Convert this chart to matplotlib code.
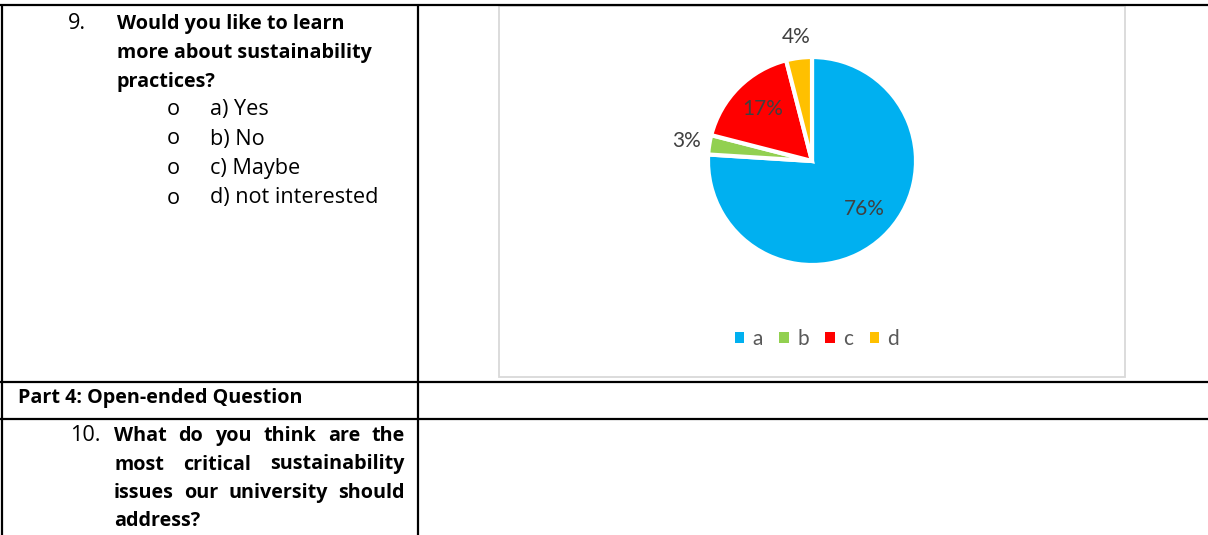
import matplotlib
matplotlib.use("Agg")
import matplotlib.pyplot as plt
from matplotlib.lines import Line2D
from matplotlib.patches import Rectangle
import numpy as np

# ---- data ----
categories = ["a", "b", "c", "d"]
shares = [76, 3, 17, 4]
pct_labels = ["76%", "3%", "17%", "4%"]
colors = ["#00B0F0", "#92D050", "#FF0000", "#FFC000"]

q9_number = "9."
q9_lines = ["Would you like to learn", "more about sustainability", "practices?"]
q9_options = ["a) Yes", "b) No", "c) Maybe", "d) not interested"]
part_title = "Part 4: Open-ended Question"
q10_number = "10."
q10_lines = ["What do you think are the", "most critical sustainability",
             "issues our university should", "address?"]

W, H = 1208, 535
fig = plt.figure(figsize=(W / 100, H / 100), dpi=100)
fig.patch.set_facecolor("white")
renderer = fig.canvas.get_renderer()


def fx(x):
    return x / W


def fy(y):
    return 1 - y / H


def hline(y, x0, x1, lw=2.0, color="black"):
    fig.add_artist(Line2D([fx(x0), fx(x1)], [fy(y), fy(y)], transform=fig.transFigure,
                          color=color, lw=lw, solid_capstyle="butt"))


def vline(x, y0, y1, lw=2.0, color="black"):
    fig.add_artist(Line2D([fx(x), fx(x)], [fy(y0), fy(y1)], transform=fig.transFigure,
                          color=color, lw=lw, solid_capstyle="butt"))


def fit_size(text, family, weight, target_px):
    t = fig.text(0, 0, text, family=family, fontweight=weight, fontsize=10)
    w = t.get_window_extent(renderer).width
    t.remove()
    return 10 * target_px / w


# ---- table grid ----
hline(5, 0, W, lw=1.6)
hline(382, 0, W, lw=1.6)
hline(419, 0, W, lw=1.6)
vline(1.5, 5, H, lw=1.6)
vline(418, 5, H, lw=1.6)

# chart frame
fig.add_artist(Rectangle((fx(499), fy(377)), fx(1125) - fx(499), fy(6) - fy(377),
                         transform=fig.transFigure, facecolor="none",
                         edgecolor="#D9D9D9", lw=1.3, zorder=0.5))

doc_font = "Open Sans"
fs_bold = fit_size("Would you like to learn", doc_font, "bold", 229)
fs_reg = fit_size("d) not interested", doc_font, "normal", 168)
reg_kw = dict(family=doc_font, fontsize=fs_reg, color="black", va="baseline")
bold_kw = dict(family=doc_font, fontsize=fs_bold, color="black", va="baseline",
               fontweight="bold")

# ---- question 9 ----
fig.text(fx(68), fy(29), q9_number, **reg_kw)
for i, line in enumerate(q9_lines):
    fig.text(fx(117), fy(29 + 29 * i), line, **bold_kw)
for i, opt in enumerate(q9_options):
    y = 115 + 29.5 * i
    fig.text(fx(167), fy(y), "o", **reg_kw)
    fig.text(fx(210), fy(y), opt, **reg_kw)

# ---- part 4 ----
fig.text(fx(18), fy(403), part_title, **bold_kw)

# ---- question 10 (justified) ----
fig.text(fx(70), fy(441), q10_number, **reg_kw)
x_left, x_right = 114, 405
for i, line in enumerate(q10_lines):
    y = 441 + 28.5 * i
    words = line.split()
    if i == len(q10_lines) - 1:
        fig.text(fx(x_left), fy(y), line, **bold_kw)
        continue
    arts = [fig.text(0, 0, w, **bold_kw) for w in words]
    widths = [a.get_window_extent(renderer).width for a in arts]
    gap = (x_right - x_left - sum(widths)) / (len(words) - 1)
    x = x_left
    for a, wdt in zip(arts, widths):
        a.set_position((fx(x), fy(y)))
        x += wdt + gap

# ---- pie chart ----
cx, cy, R = 812, 161, 104
half = 150
ax = fig.add_axes([fx(cx - half), fy(cy + half), 2 * half / W, 2 * half / H])
ax.set_zorder(2)
wedges, _ = ax.pie(shares, colors=colors, startangle=90, counterclock=False,
                   radius=1.0, wedgeprops=dict(edgecolor="white", linewidth=3))
ax.set_xlim(-half / R, half / R)
ax.set_ylim(-half / R, half / R)
ax.axis("off")

label_dist = [0.68, 1.22, 0.69, 1.20]
label_shift = [4.0, 0.0, -2.0, 0.0]  # small angular tweaks (deg)
for w, lab, d, s in zip(wedges, pct_labels, label_dist, label_shift):
    ang = np.deg2rad((w.theta1 + w.theta2) / 2 + s)
    ax.text(d * np.cos(ang), d * np.sin(ang), lab, ha="center", va="center",
            family="Lato", fontsize=15, color="#404040")

leg = fig.legend(wedges, categories, loc="center", bbox_to_anchor=(fx(817), fy(339)),
                 ncol=4, frameon=False, handlelength=0.45, handleheight=0.45,
                 handletextpad=0.4, columnspacing=0.8,
                 prop=dict(family="Lato", size=15))
for t in leg.get_texts():
    t.set_color("#595959")
for p in leg.get_patches():
    p.set_edgecolor("none")

fig.savefig("out.png", dpi=100, facecolor="white")
